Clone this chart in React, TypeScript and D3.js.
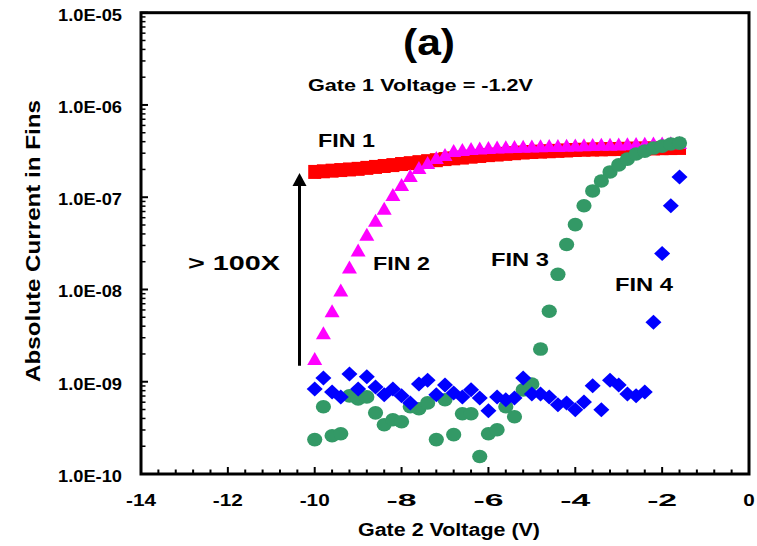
import React from "react";
import * as d3 from "d3";

// Gate 2 voltage sweep (V), 0.2 V steps
const gate2 = [
	-10.0, -9.8, -9.6, -9.4, -9.2, -9.0, -8.8, -8.6, -8.4, -8.2, -8.0, -7.8, -7.6,
	-7.4, -7.2, -7.0, -6.8, -6.6, -6.4, -6.2, -6.0, -5.8, -5.6, -5.4, -5.2, -5.0,
	-4.8, -4.6, -4.4, -4.2, -4.0, -3.8, -3.6, -3.4, -3.2, -3.0, -2.8, -2.6, -2.4,
	-2.2, -2.0, -1.8, -1.6,
];

// absolute current (A)
const fin1 = [
	1.88e-7, 1.91e-7, 1.94e-7, 1.97e-7, 2.0e-7, 2.03e-7, 2.08e-7, 2.13e-7, 2.18e-7,
	2.23e-7, 2.29e-7, 2.34e-7, 2.4e-7, 2.46e-7, 2.52e-7, 2.59e-7, 2.64e-7, 2.69e-7,
	2.75e-7, 2.8e-7, 2.86e-7, 2.9e-7, 2.95e-7, 3.0e-7, 3.05e-7, 3.09e-7, 3.12e-7,
	3.15e-7, 3.18e-7, 3.21e-7, 3.25e-7, 3.27e-7, 3.29e-7, 3.3e-7, 3.32e-7, 3.33e-7,
	3.35e-7, 3.36e-7, 3.37e-7, 3.38e-7, 3.4e-7, 3.41e-7, 3.42e-7,
];
const fin2 = [
	1.76e-9, 3.36e-9, 5.81e-9, 9.77e-9, 1.73e-8, 2.64e-8, 3.93e-8, 5.56e-8, 7.5e-8,
	1.06e-7, 1.36e-7, 1.7e-7, 2.08e-7, 2.35e-7, 2.66e-7, 2.86e-7, 3.16e-7, 3.24e-7,
	3.33e-7, 3.37e-7, 3.41e-7, 3.45e-7, 3.48e-7, 3.5e-7, 3.52e-7, 3.54e-7, 3.56e-7,
	3.58e-7, 3.6e-7, 3.62e-7, 3.64e-7, 3.66e-7, 3.68e-7, 3.7e-7, 3.71e-7, 3.73e-7,
	3.75e-7, 3.77e-7, 3.79e-7, 3.81e-7, 3.83e-7, 3.85e-7, 3.87e-7,
];
const fin3 = [
	2.36e-10, 5.35e-10, 2.6e-10, 2.73e-10, 7.03e-10, 6.52e-10, 6.85e-10, 4.6e-10,
	3.42e-10, 3.87e-10, 3.68e-10, 5.35e-10, 5.09e-10, 5.9e-10, 2.36e-10, 6.37e-10,
	2.67e-10, 4.5e-10, 4.5e-10, 1.55e-10, 2.73e-10, 3.02e-10, 5.35e-10, 4.17e-10,
	8.17e-10, 9.46e-10, 2.26e-9, 5.81e-9, 1.46e-8, 3.07e-8, 5.04e-8, 8.07e-8,
	1.17e-7, 1.5e-7, 1.88e-7, 2.24e-7, 2.59e-7, 2.94e-7, 3.16e-7, 3.41e-7, 3.58e-7,
	3.77e-7, 3.86e-7,
];
const fin4 = [
	8.36e-10, 1.1e-9, 7.76e-10, 6.85e-10, 1.21e-9, 8.36e-10, 1.13e-9, 8.79e-10,
	7.21e-10, 8.36e-10, 7.03e-10, 5.9e-10, 9.46e-10, 1.04e-9, 7.21e-10, 9.23e-10,
	7.57e-10, 6.85e-10, 8.17e-10, 6.68e-10, 4.84e-10, 6.85e-10, 6.37e-10, 6.68e-10,
	1.1e-9, 7.38e-10, 7.38e-10, 6.85e-10, 5.62e-10, 5.9e-10, 4.97e-10, 6.05e-10,
	9.02e-10, 4.97e-10, 1.04e-9, 9.23e-10, 7.38e-10, 7.03e-10, 7.76e-10, 4.42e-9,
	2.45e-8, 8.07e-8, 1.66e-7,
];

const xTicks = [-14, -12, -10, -8, -6, -4, -2, 0];
const yTicks = [1e-10, 1e-9, 1e-8, 1e-7, 1e-6, 1e-5];
const yTickLabels = ["1.0E-10", "1.0E-09", "1.0E-08", "1.0E-07", "1.0E-06", "1.0E-05"];

const W = 757;
const H = 546;
const left = 141;
const right = 749;
const top = 12.7;
const bottom = 474;
const font = "'Liberation Sans', Arial, sans-serif";

export default function App() {
	const x = d3.scaleLinear().domain([-14, 0]).range([left, right]);
	const y = d3.scaleLog().domain([1e-10, 1e-5]).range([bottom, top]);

	const xMinor = d3.range(-14, 0.001, 0.4).filter((v) => Math.abs(v / 2 - Math.round(v / 2)) > 0.01);
	const yMinor: number[] = [];
	for (let e = -10; e < -5; e++) {
		for (let m = 2; m <= 9; m++) yMinor.push(m * Math.pow(10, e));
	}

	const tri = (cx: number, cy: number) =>
		`M${cx},${cy - 7}L${cx + 7.5},${cy + 6}L${cx - 7.5},${cy + 6}Z`;
	const dia = (cx: number, cy: number) =>
		`M${cx},${cy - 7.5}L${cx + 8},${cy}L${cx},${cy + 7.5}L${cx - 8},${cy}Z`;

	const ax = x(-10.35);
	const tip = y(1.83e-7);

	return (
		<svg
			width={W}
			height={H}
			style={{ position: "absolute", left: 0, top: 0, background: "#fff" }}
			fontFamily={font}
			fontWeight="bold"
		>
			{/* FIN 1 */}
			<g fill="#ff0000">
				{gate2.map((v, i) => (
					<rect key={i} x={x(v) - 6.5} y={y(fin1[i]) - 7} width={13} height={14} />
				))}
			</g>
			{/* FIN 2 */}
			<g fill="#ff00ff">
				{gate2.map((v, i) => (
					<path key={i} d={tri(x(v), y(fin2[i]))} />
				))}
			</g>
			{/* FIN 3 */}
			<g fill="#339966">
				{gate2.map((v, i) => (
					<ellipse key={i} cx={x(v)} cy={y(fin3[i])} rx={7.6} ry={6.8} />
				))}
			</g>
			{/* FIN 4 */}
			<g fill="#0000ff">
				{gate2.map((v, i) => (
					<path key={i} d={dia(x(v), y(fin4[i]))} />
				))}
			</g>

			{/* frame */}
			<rect x={left} y={top} width={right - left} height={bottom - top} fill="none" stroke="#000" strokeWidth={3} />

			{/* x ticks */}
			{xTicks.map((t) => (
				<g key={t}>
					<line x1={x(t)} x2={x(t)} y1={bottom} y2={bottom - 7} stroke="#000" strokeWidth={2} />
					<text
						x={x(t)}
						y={bottom + 32}
						textAnchor="middle"
						fontSize={17}
						textLength={t === 0 ? 11.5 : 30}
						lengthAdjust="spacingAndGlyphs"
					>
						{t}
					</text>
				</g>
			))}
			{xMinor.map((t, i) => (
				<line key={i} x1={x(t)} x2={x(t)} y1={bottom} y2={bottom - 4.5} stroke="#000" strokeWidth={2} />
			))}

			{/* y ticks */}
			{yTicks.map((t, i) => (
				<g key={t}>
					<line x1={left} x2={left + 7} y1={y(t)} y2={y(t)} stroke="#000" strokeWidth={2} />
					<text
						x={58}
						y={y(t) + 8}
						fontSize={17}
						textLength={64}
						lengthAdjust="spacingAndGlyphs"
					>
						{yTickLabels[i]}
					</text>
				</g>
			))}
			{yMinor.map((t, i) => (
				<line key={i} x1={left} x2={left + 4.5} y1={y(t)} y2={y(t)} stroke="#000" strokeWidth={1.5} />
			))}

			{/* axis titles */}
			<text x={358} y={536} fontSize={18} textLength={182} lengthAdjust="spacingAndGlyphs">
				Gate 2 Voltage (V)
			</text>
			<text
				transform={`translate(40,${241 + 141}) rotate(-90)`}
				fontSize={20}
				textLength={282}
				lengthAdjust="spacingAndGlyphs"
			>
				Absolute Current in Fins
			</text>

			{/* annotations */}
			<text x={403} y={55} fontSize={37} textLength={52} lengthAdjust="spacingAndGlyphs">
				(a)
			</text>
			<text x={308} y={91} fontSize={17} textLength={225} lengthAdjust="spacingAndGlyphs">
				Gate 1 Voltage = -1.2V
			</text>
			<text x={318} y={147} fontSize={19} textLength={57} lengthAdjust="spacingAndGlyphs">
				FIN 1
			</text>
			<text x={373} y={270} fontSize={19} textLength={57} lengthAdjust="spacingAndGlyphs">
				FIN 2
			</text>
			<text x={491} y={266} fontSize={19} textLength={58} lengthAdjust="spacingAndGlyphs">
				FIN 3
			</text>
			<text x={615} y={291} fontSize={19} textLength={58} lengthAdjust="spacingAndGlyphs">
				FIN 4
			</text>
			<text x={188} y={270} fontSize={20} textLength={92} lengthAdjust="spacingAndGlyphs">
				&gt; 100X
			</text>

			{/* arrow */}
			<line x1={ax} x2={ax} y1={y(1.49e-9)} y2={tip + 10} stroke="#000" strokeWidth={3} />
			<path d={`M${ax},${tip}L${ax + 7},${tip + 13}L${ax - 7},${tip + 13}Z`} fill="#000" />
		</svg>
	);
}
